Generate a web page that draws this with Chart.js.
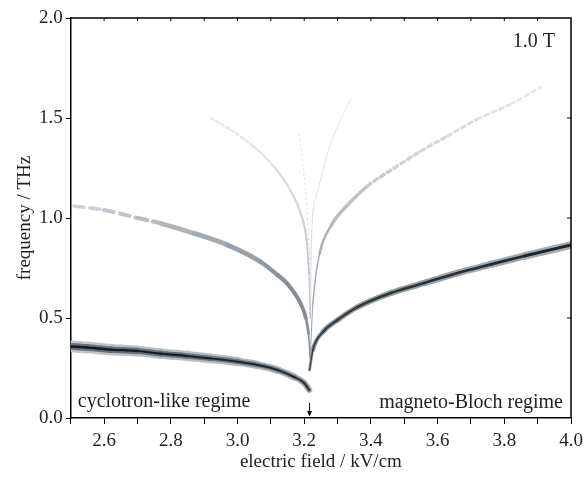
<!DOCTYPE html>
<html>
<head>
<meta charset="utf-8">
<script src="https://cdn.jsdelivr.net/npm/chart.js@4.4.0/dist/chart.umd.min.js"></script>
<style>
  html, body { margin: 0; padding: 0; background: #fff; }
</style>
</head>
<body>
<canvas id="chart" width="587" height="477"></canvas>
<script>
// electric field (kV/cm) and frequency (THz) of each branch
const cycX = [2.50, 2.55, 2.62, 2.70, 2.77, 2.85, 2.92, 3.00, 3.06, 3.12, 3.17, 3.20, 3.215];
const cycY = [0.358, 0.352, 0.342, 0.335, 0.322, 0.31, 0.298, 0.282, 0.265, 0.24, 0.205, 0.175, 0.14];

const left2X = [2.51, 2.60, 2.70, 2.77, 2.87, 2.97, 3.07, 3.12, 3.15, 3.19, 3.205, 3.213, 3.218];
const left2Y = [1.06, 1.04, 1.0, 0.973, 0.923, 0.865, 0.78, 0.715, 0.67, 0.57, 0.5, 0.42, 0.3];

const left3X = [2.92, 2.98, 3.05, 3.11, 3.16, 3.19, 3.207, 3.214, 3.218];
const left3Y = [1.50, 1.44, 1.355, 1.255, 1.135, 1.02, 0.89, 0.72, 0.5];

const left4X = [3.185, 3.200, 3.210, 3.215, 3.218];
const left4Y = [1.42, 1.2, 1.0, 0.8, 0.5];

const blochX = [3.216, 3.226, 3.256, 3.30, 3.36, 3.46, 3.56, 3.66, 3.76, 3.86, 4.0];
const blochY = [0.24, 0.34, 0.43, 0.49, 0.555, 0.625, 0.675, 0.725, 0.768, 0.81, 0.865];

const right2X = [3.218, 3.226, 3.246, 3.28, 3.33, 3.39, 3.47, 3.55, 3.63, 3.72, 3.82, 3.91];
const right2Y = [0.30, 0.57, 0.82, 0.96, 1.065, 1.16, 1.25, 1.335, 1.41, 1.495, 1.57, 1.655];

const right3X = [3.219, 3.221, 3.236, 3.276, 3.34];
const right3Y = [0.5, 0.857, 1.107, 1.357, 1.598];

const xTicks = { min: 2.5, max: 4.0, step: 0.1 };
const yTicks = { min: 0, max: 2.0, step: 0.5 };
const arrowAt = 3.216;

const serif = "'Liberation Serif', 'DejaVu Serif', serif";
const ink = '#231f20';

// --- helpers for the grey bands ---
function hex(c) {
    const n = parseInt(c.slice(1), 16);
    return [(n >> 16) & 255, (n >> 8) & 255, n & 255];
}
function lerpStops(stops, t, isColor) {
    let a = stops[0], b = stops[stops.length - 1];
    for (let i = 0; i < stops.length - 1; i++) {
        if (t >= stops[i][0] && t <= stops[i + 1][0]) { a = stops[i]; b = stops[i + 1]; break; }
    }
    const f = b[0] === a[0] ? 0 : Math.min(1, Math.max(0, (t - a[0]) / (b[0] - a[0])));
    if (!isColor) return a[1] + (b[1] - a[1]) * f;
    const ca = hex(a[1]), cb = hex(b[1]);
    return 'rgb(' + ca.map((v, k) => Math.round(v + (cb[k] - v) * f)).join(',') + ')';
}

const datasets = [];
function band(xs, ys, layers) {
    // position along the curve, 0..1, in rough axis-length units
    const s = [0];
    for (let i = 1; i < xs.length; i++) {
        const dx = (xs[i] - xs[i - 1]) / 1.5, dy = (ys[i] - ys[i - 1]) / 2;
        s.push(s[i - 1] + Math.hypot(dx, dy));
    }
    const tot = s[s.length - 1];
    const tAt = ctx => (s[ctx.p0DataIndex] + s[ctx.p1DataIndex]) / 2 / tot;
    layers.forEach(L => {
        datasets.push({
            data: xs.map((x, i) => ({ x: x, y: ys[i] })),
            borderColor: L.c[0][1],
            borderWidth: L.w[0][1],
            borderCapStyle: 'round',
            pointRadius: 0,
            cubicInterpolationMode: 'monotone',
            order: -datasets.length,
            segment: {
                borderWidth: ctx => lerpStops(L.w, tAt(ctx), false),
                borderColor: ctx => lerpStops(L.c, tAt(ctx), true),
                borderDash: ctx => (L.dash && tAt(ctx) >= L.dash.from && tAt(ctx) <= L.dash.to) ? L.dash.pattern : []
            }
        });
    });
}

// faint branches first, dark ones on top
band(left4X, left4Y, [{ w: [[0, 0.8], [1, 0.8]], c: [[0, '#d6dade'], [1, '#c4c9cf']], dash: { from: 0, to: 1, pattern: [2, 3] } }]);
band(right3X, right3Y, [{ w: [[0, 0.8], [1, 0.8]], c: [[0, '#c0c6cc'], [1, '#dfe2e5']] }]);
band(left3X, left3Y, [{ w: [[0, 2.5], [0.5, 2.5], [0.8, 1.4], [1, 0.8]], c: [[0, '#e8eaed'], [0.5, '#d5d9de'], [0.8, '#b7bec5'], [1, '#c8cdd2']], dash: { from: 0, to: 0.3, pattern: [3, 3] } }]);
band(right2X, right2Y, [{ w: [[0, 0.8], [0.28, 1.6], [0.4, 3.5], [0.6, 3.5], [1, 2.5]], c: [[0, '#9aa2ab'], [0.28, '#a3abb4'], [0.4, '#b2b9c1'], [0.6, '#cdd2d8'], [1, '#e6e8eb']], dash: { from: 0.5, to: 1, pattern: [4, 4] } }]);
band(left2X, left2Y, [{ w: [[0, 3.5], [0.4, 5], [0.8, 4], [1, 1]], c: [[0, '#d2d6dc'], [0.35, '#aab2bb'], [0.8, '#7f8993'], [1, '#8f98a1']], dash: { from: 0, to: 0.25, pattern: [10, 6] } }]);
band(cycX, cycY, [
    { w: [[0, 12], [0.5, 10], [1, 6]], c: [[0, '#c0c6cb'], [1, '#b0b8bd']] },
    { w: [[0, 7], [0.5, 5.5], [1, 3.5]], c: [[0, '#66717a'], [1, '#6d777e']] },
    { w: [[0, 2.5], [1, 1.5]], c: [[0, '#11191d'], [1, '#1e272b']] }
]);
band(blochX, blochY, [
    { w: [[0, 2], [0.15, 5], [1, 8]], c: [[0, '#8c959b'], [1, '#a5adb3']] },
    { w: [[0, 1], [0.15, 2.2], [1, 3]], c: [[0, '#3a4348'], [1, '#1b2327']] }
]);

// frame on the top and right, inward ticks, arrow and the labels inside the plot
const framePlugin = {
    id: 'frame',
    afterDraw(chart) {
        const { ctx, chartArea: a, scales } = chart;
        const xs = scales.x, ys = scales.y;
        ctx.save();
        ctx.strokeStyle = '#000';
        ctx.lineWidth = 1.5;
        ctx.beginPath();
        ctx.moveTo(a.left, a.top); ctx.lineTo(a.right, a.top); ctx.lineTo(a.right, a.bottom);
        ctx.stroke();
        ctx.lineWidth = 1;
        ctx.beginPath();
        for (let k = 1; k < 15; k++) {
            const px = xs.getPixelForValue(xTicks.min + k * xTicks.step);
            ctx.moveTo(px, a.top); ctx.lineTo(px, a.top + 3);
        }
        for (let k = 1; k < 4; k++) {
            const py = ys.getPixelForValue(yTicks.min + k * yTicks.step);
            ctx.moveTo(a.right, py); ctx.lineTo(a.right - 4, py);
        }
        ctx.stroke();

        // arrow at the critical field
        const ax = xs.getPixelForValue(arrowAt);
        ctx.beginPath();
        ctx.moveTo(ax, a.bottom - 15); ctx.lineTo(ax, a.bottom - 5);
        ctx.stroke();
        ctx.fillStyle = '#000';
        ctx.beginPath();
        ctx.moveTo(ax - 2.5, a.bottom - 7); ctx.lineTo(ax + 2.5, a.bottom - 7); ctx.lineTo(ax, a.bottom - 1.5);
        ctx.closePath();
        ctx.fill();

        ctx.fillStyle = ink;
        ctx.font = '20px ' + serif;
        ctx.textBaseline = 'alphabetic';
        ctx.textAlign = 'right';
        ctx.fillText('1.0 T', a.right - 16, a.top + 29);
        ctx.fillText('magneto-Bloch regime', a.right - 8, a.bottom - 10);
        ctx.textAlign = 'left';
        ctx.fillText('cyclotron-like regime', a.left + 7, a.bottom - 11);
        ctx.restore();
    }
};

new Chart(document.getElementById('chart').getContext('2d'), {
    type: 'line',
    data: { datasets: datasets },
    options: {
        responsive: false,
        animation: false,
        events: [],
        layout: { padding: { left: 9, right: 16, top: 18, bottom: 0 } },
        plugins: { legend: { display: false }, tooltip: { enabled: false } },
        scales: {
            x: {
                type: 'linear',
                min: xTicks.min,
                max: xTicks.max,
                afterFit: scale => { scale.height = 59; scale.paddingRight = 0; scale.paddingLeft = 0; },
                border: { display: true, color: '#000', width: 1.5 },
                grid: { drawOnChartArea: false, drawTicks: true, tickLength: 6, tickColor: '#000', tickWidth: 1 },
                ticks: {
                    stepSize: xTicks.step,
                    autoSkip: false,
                    maxRotation: 0,
                    padding: 6,
                    color: ink,
                    font: { family: serif, size: 19 },
                    callback: v => (Math.round(v * 10) % 2 === 0 ? Number(v).toFixed(1) : '')
                },
                title: { display: true, text: 'electric field / kV/cm', color: ink, font: { family: serif, size: 19, lineHeight: 1.0 }, padding: { top: 5, bottom: 5 } }
            },
            y: {
                type: 'linear',
                min: yTicks.min,
                max: yTicks.max,
                border: { display: true, color: '#000', width: 1.5 },
                grid: { drawOnChartArea: false, drawTicks: true, tickLength: 5, tickColor: '#000', tickWidth: 1 },
                ticks: {
                    stepSize: yTicks.step,
                    padding: 3,
                    color: ink,
                    font: { family: serif, size: 19 },
                    callback: v => Number(v).toFixed(1)
                },
                title: { display: true, text: 'frequency / THz', color: ink, font: { family: serif, size: 19, lineHeight: 1.0 }, padding: { top: 7, bottom: 1 } }
            }
        }
    },
    plugins: [framePlugin]
});
</script>
</body>
</html>
